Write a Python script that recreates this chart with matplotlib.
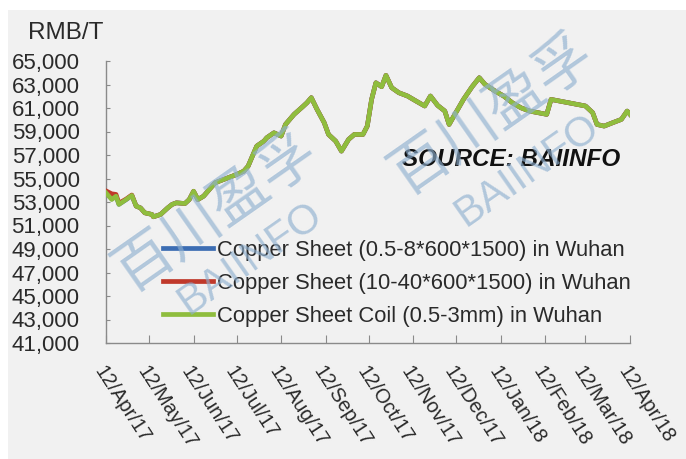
import matplotlib
matplotlib.use("Agg")
import matplotlib.pyplot as plt
import pandas as pd

# Price observation dates (2017-04-12 .. 2018-04-12)
dates = [
    "2017-04-12", "2017-04-16", "2017-04-19", "2017-04-21", "2017-04-26", "2017-04-30",
    "2017-05-03", "2017-05-06", "2017-05-09", "2017-05-14", "2017-05-15", "2017-05-20",
    "2017-05-25", "2017-05-28", "2017-05-31", "2017-06-06", "2017-06-09", "2017-06-12",
    "2017-06-15", "2017-06-19", "2017-06-24", "2017-06-27", "2017-06-30", "2017-07-06",
    "2017-07-12", "2017-07-17", "2017-07-20", "2017-07-23", "2017-07-26", "2017-07-31",
    "2017-08-02", "2017-08-07", "2017-08-12", "2017-08-15", "2017-08-18", "2017-08-21",
    "2017-08-27", "2017-08-30", "2017-09-02", "2017-09-06", "2017-09-11", "2017-09-14",
    "2017-09-19", "2017-09-23", "2017-09-28", "2017-10-02", "2017-10-08", "2017-10-11",
    "2017-10-14", "2017-10-17", "2017-10-21", "2017-10-24", "2017-10-28", "2017-11-02",
    "2017-11-08", "2017-11-14", "2017-11-20", "2017-11-24", "2017-11-29", "2017-12-04",
    "2017-12-07", "2017-12-11", "2017-12-17", "2017-12-23", "2017-12-28", "2018-01-01",
    "2018-01-08", "2018-01-14", "2018-01-20", "2018-01-26", "2018-02-01", "2018-02-07",
    "2018-02-13", "2018-02-16", "2018-02-22", "2018-02-28", "2018-03-06", "2018-03-12",
    "2018-03-17", "2018-03-20", "2018-03-25", "2018-03-31", "2018-04-06", "2018-04-10",
    "2018-04-12",
]

# Copper Sheet Coil (0.5-3mm), RMB/T
coil = [
    53780, 53210, 53500, 52790, 53210, 53560,
    52650, 52500, 52080, 51940, 51740, 51940,
    52500, 52790, 52930, 52870, 53210, 53920,
    53210, 53500, 54210, 54630, 54780, 55060,
    55340, 55630, 56050, 56910, 57760, 58180,
    58470, 58890, 58610, 59600, 60030, 60460,
    61110, 61450, 61880, 60880, 59750, 58750,
    58180, 57330, 58330, 58750, 58750, 59460,
    61730, 63150, 62810, 63780, 62730, 62300,
    62020, 61590, 61170, 62020, 61220, 60740,
    59600, 60460, 61730, 62810, 63580, 63010,
    62440, 62020, 61450, 61020, 60740, 60600,
    60460, 61730, 61590, 61450, 61310, 61170,
    60600, 59600, 59460, 59750, 60030, 60740,
    60460,
]

# Copper Sheet (0.5-8*600*1500), RMB/T
sheet_thin = [
    53800, 53250, 53500, 52800, 53200, 53550,
    52650, 52500, 52080, 51940, 51740, 51940,
    52500, 52790, 52930, 52870, 53210, 53900,
    53210, 53500, 54210, 54630, 54780, 55060,
    55340, 55630, 56050, 56910, 57760, 58180,
    58470, 58890, 58610, 59600, 60030, 60460,
    61110, 61450, 61880, 60880, 59750, 58750,
    58180, 57330, 58330, 58750, 58750, 59460,
    61730, 63150, 62810, 63780, 62730, 62300,
    62020, 61590, 61170, 62020, 61220, 60740,
    59600, 60460, 61730, 62810, 63580, 63010,
    62440, 62020, 61450, 61020, 60740, 60600,
    60460, 61730, 61590, 61450, 61310, 61170,
    60600, 59600, 59460, 59750, 60030, 60740,
    60460,
]

# Copper Sheet (10-40*600*1500), RMB/T
sheet_thick = [
    53950, 53700, 53650, 52900, 53250, 53600,
    52650, 52500, 52080, 51940, 51740, 51940,
    52500, 52790, 52930, 52870, 53210, 53920,
    53210, 53500, 54210, 54630, 54780, 55060,
    55340, 55630, 56050, 56910, 57760, 58180,
    58470, 58890, 58610, 59600, 60030, 60460,
    61110, 61450, 61880, 60880, 59750, 58750,
    58180, 57330, 58330, 58750, 58750, 59460,
    61730, 63150, 62810, 63780, 62730, 62300,
    62020, 61590, 61170, 62020, 61220, 60740,
    59600, 60460, 61730, 62810, 63580, 63010,
    62440, 62020, 61450, 61020, 60740, 60600,
    60460, 61730, 61590, 61450, 61310, 61170,
    60600, 59600, 59460, 59750, 60030, 60740,
    60460,
]

series_labels = [
    "Copper Sheet (0.5-8*600*1500) in Wuhan",
    "Copper Sheet (10-40*600*1500) in Wuhan",
    "Copper Sheet Coil (0.5-3mm) in Wuhan",
]
tick_dates = [
    "2017-04-12", "2017-05-12", "2017-06-12", "2017-07-12", "2017-08-12", "2017-09-12",
    "2017-10-12", "2017-11-12", "2017-12-12", "2018-01-12", "2018-02-12", "2018-03-12",
    "2018-04-12",
]
tick_labels = [
    "12/Apr/17", "12/May/17", "12/Jun/17", "12/Jul/17", "12/Aug/17", "12/Sep/17",
    "12/Oct/17", "12/Nov/17", "12/Dec/17", "12/Jan/18", "12/Feb/18", "12/Mar/18",
    "12/Apr/18",
]

BG = "#f1f1f1"
FONT = ["Liberation Sans", "DejaVu Sans"]
plt.rcParams["font.family"] = FONT

fig = plt.figure(figsize=(6.86, 4.59), dpi=100, facecolor=BG)
# thin white margin along the top and left edge
fig.patches.append(plt.Rectangle((0, 1 - 10 / 459), 1, 10 / 459, transform=fig.transFigure,
                                 facecolor="white", edgecolor="none", zorder=0))
fig.patches.append(plt.Rectangle((0, 0), 8 / 686, 1, transform=fig.transFigure,
                                 facecolor="white", edgecolor="none", zorder=0))

ax = fig.add_axes([106 / 686, 1 - 343 / 459, (630 - 106) / 686, (343 - 61) / 459])
ax.set_facecolor(BG)

x = pd.to_datetime(dates)
colors = ["#3c6db3", "#c0392b", "#8fbd3e"]
for vals, lab, c in zip([sheet_thin, sheet_thick, coil], series_labels, colors):
    ax.plot(x, vals, color=c, lw=3.3, label=lab, solid_joinstyle="round", zorder=3)

ax.set_xlim(pd.Timestamp(tick_dates[0]), pd.Timestamp(tick_dates[-1]))
ax.set_ylim(41000, 65000)
ax.set_yticks(range(41000, 65001, 2000))
ax.set_yticklabels([f"{v:,}" for v in range(41000, 65001, 2000)])
ax.set_xticks(pd.to_datetime(tick_dates))
ax.set_xticklabels(tick_labels, rotation=-57, ha="left", va="top",
                   rotation_mode="anchor")

for s in ["top", "right"]:
    ax.spines[s].set_visible(False)
for s in ["left", "bottom"]:
    ax.spines[s].set_color("#8a8a8a")
    ax.spines[s].set_linewidth(1.0)

ax.tick_params(axis="y", direction="in", length=3, color="#8a8a8a", pad=19,
               labelsize=16, labelcolor="#2a2a2a")
ax.tick_params(axis="x", direction="in", length=6, color="#8a8a8a", pad=14,
               labelsize=14.5, labelcolor="#2a2a2a")

leg = ax.legend(loc="upper left", bbox_to_anchor=(0.092, 0.397), frameon=False,
                fontsize=15.8, handlelength=2.3, handletextpad=0.15,
                labelspacing=0.54, borderaxespad=0)
for h in leg.get_lines():
    h.set_linewidth(3.4)
for t in leg.get_texts():
    t.set_color("#2a2a2a")

fig.text(28 / 686, 1 - 33 / 459, "RMB/T", fontsize=17.5, color="#2a2a2a",
         ha="left", va="center")
fig.text(402 / 686, 1 - 159 / 459, "SOURCE: BAIINFO", fontsize=17.5, fontweight="bold",
         fontstyle="italic", color="#111111", ha="left", va="center")

# diagonal watermark
wm = dict(color="#8fb0d0", alpha=0.65, ha="center", va="center", zorder=5)
cjk = ["Noto Sans CJK SC", "DejaVu Sans"]
for (cx, cy), (bx, by) in [((216, 212), (250, 258)), ((492, 115), (527, 170))]:
    fig.text(cx / 686, 1 - cy / 459, "百川盈孚", fontsize=42, rotation=35,
             family=cjk, **wm)
    fig.text(bx / 686, 1 - by / 459, "BAIINFO", fontsize=30, rotation=35,
             family=FONT, **wm)

fig.savefig("out.png", dpi=100, facecolor=BG)
